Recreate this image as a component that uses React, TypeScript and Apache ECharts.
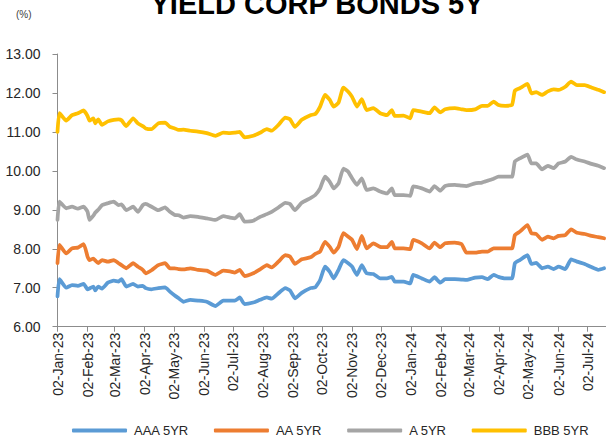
import React, { useEffect, useRef } from "react";
import * as echarts from "echarts";

const dates = [
  "2023-01-02","2023-01-04","2023-01-11","2023-01-17","2023-01-23","2023-01-29","2023-02-02","2023-02-04",
  "2023-02-08","2023-02-10","2023-02-13","2023-02-17","2023-02-23","2023-03-01","2023-03-06","2023-03-09",
  "2023-03-14","2023-03-21","2023-03-26","2023-03-31","2023-04-03","2023-04-09","2023-04-16","2023-04-23",
  "2023-04-28","2023-05-03","2023-05-07","2023-05-12","2023-05-19","2023-05-27","2023-06-05","2023-06-14",
  "2023-06-22","2023-06-29","2023-07-04","2023-07-09","2023-07-14","2023-07-23","2023-07-30","2023-08-06",
  "2023-08-11","2023-08-18","2023-08-25","2023-08-30","2023-09-04","2023-09-11","2023-09-20","2023-09-25",
  "2023-09-30","2023-10-05","2023-10-10","2023-10-14","2023-10-19","2023-10-24","2023-10-29","2023-11-02",
  "2023-11-07","2023-11-12","2023-11-17","2023-11-24","2023-12-01","2023-12-08","2023-12-13","2023-12-16",
  "2023-12-25","2024-01-01","2024-01-04","2024-01-13","2024-01-21","2024-01-26","2024-02-01","2024-02-06",
  "2024-02-16","2024-02-23","2024-02-28","2024-03-08","2024-03-15","2024-03-21","2024-03-27","2024-04-01",
  "2024-04-08","2024-04-15","2024-04-18","2024-04-23","2024-05-01","2024-05-05","2024-05-10","2024-05-16",
  "2024-05-22","2024-05-28","2024-06-02","2024-06-09","2024-06-15","2024-06-21","2024-06-29","2024-07-06",
  "2024-07-13","2024-07-19",
];

const bbb5y = [
  11.00,11.48,11.29,11.43,11.48,11.55,11.41,11.29,
  11.35,11.22,11.32,11.18,11.27,11.31,11.32,11.30,
  11.15,11.35,11.22,11.15,11.09,11.07,11.22,11.24,
  11.13,11.09,11.05,11.06,11.03,11.01,10.97,10.90,
  10.98,10.97,10.98,11.00,10.86,10.90,10.98,11.07,
  11.03,11.18,11.37,11.32,11.13,11.31,11.43,11.46,
  11.65,11.95,11.82,11.65,11.75,12.14,12.03,11.90,
  11.65,11.84,11.56,11.61,11.48,11.43,11.56,11.41,
  11.42,11.35,11.56,11.52,11.48,11.63,11.50,11.58,
  11.61,11.58,11.56,11.58,11.67,11.67,11.78,11.69,
  11.67,11.69,12.06,12.12,12.23,11.99,12.02,11.95,
  12.04,12.09,12.08,12.16,12.29,12.20,12.20,12.14,
  12.08,12.02,
];

const a5y = [
  8.74,9.21,9.04,9.08,9.03,9.08,8.95,8.74,
  8.85,8.93,9.00,9.12,9.17,9.21,9.12,9.14,
  8.99,9.08,8.95,9.12,9.15,9.08,8.99,9.06,
  8.95,8.87,8.86,8.80,8.84,8.82,8.78,8.74,
  8.84,8.80,8.78,8.89,8.70,8.72,8.82,8.89,
  8.95,9.06,9.18,9.15,8.99,9.18,9.30,9.38,
  9.55,9.85,9.72,9.55,9.68,10.06,9.98,9.81,
  9.64,9.81,9.51,9.55,9.47,9.42,9.55,9.38,
  9.38,9.36,9.60,9.55,9.47,9.61,9.49,9.61,
  9.64,9.62,9.61,9.68,9.70,9.75,9.80,9.85,
  9.85,9.85,10.24,10.32,10.42,10.19,10.19,10.04,
  10.13,10.07,10.19,10.24,10.36,10.29,10.24,10.18,
  10.13,10.07,
];

const aa5y = [
  7.63,8.10,7.88,8.01,8.03,8.12,7.80,7.71,
  7.75,7.70,7.63,7.71,7.67,7.71,7.63,7.58,
  7.50,7.63,7.54,7.46,7.37,7.45,7.58,7.63,
  7.50,7.50,7.48,7.47,7.50,7.46,7.44,7.33,
  7.44,7.42,7.39,7.46,7.30,7.37,7.47,7.58,
  7.52,7.67,7.84,7.80,7.61,7.73,7.78,7.87,
  7.93,8.18,8.05,7.90,8.05,8.40,8.31,8.23,
  7.99,8.33,8.01,8.14,8.05,8.04,8.18,8.01,
  8.01,7.99,8.23,8.14,8.01,8.16,8.04,8.14,
  8.16,8.12,7.90,7.90,7.93,7.93,8.01,8.01,
  8.01,8.01,8.35,8.44,8.61,8.40,8.38,8.23,
  8.31,8.27,8.33,8.35,8.50,8.41,8.38,8.33,
  8.30,8.27,
];

const aaa5y = [
  6.78,7.22,7.00,7.07,7.05,7.10,6.96,6.98,
  7.03,6.93,7.03,6.98,7.13,7.18,7.16,7.22,
  7.03,7.10,7.03,7.05,6.99,6.96,6.99,7.01,
  6.90,6.80,6.73,6.64,6.69,6.67,6.64,6.53,
  6.67,6.67,6.67,6.75,6.58,6.62,6.69,6.75,
  6.72,6.86,6.99,6.93,6.73,6.87,6.99,7.01,
  7.20,7.54,7.41,7.24,7.46,7.71,7.63,7.54,
  7.33,7.58,7.37,7.35,7.24,7.24,7.28,7.16,
  7.16,7.11,7.33,7.24,7.16,7.27,7.13,7.22,
  7.22,7.21,7.20,7.26,7.27,7.22,7.33,7.28,
  7.24,7.24,7.63,7.71,7.84,7.61,7.64,7.50,
  7.54,7.48,7.54,7.48,7.73,7.67,7.61,7.53,
  7.46,7.50,
];

const tickDates = [
  "2023-01-02","2023-02-02","2023-03-02","2023-04-02","2023-05-02","2023-06-02","2023-07-02",
  "2023-08-02","2023-09-02","2023-10-02","2023-11-02","2023-12-02","2024-01-02","2024-02-02",
  "2024-03-02","2024-04-02","2024-05-02","2024-06-02","2024-07-02",
];

const seriesNames = ["AAA 5YR", "AA 5YR", "A 5YR", "BBB 5YR"];
const seriesColors = ["#5B9BD5", "#ED7D31", "#A5A5A5", "#FFC000"];
const axisMin = "2023-01-02";
const axisMax = "2024-07-21";

const MONTHS = ["Jan","Feb","Mar","Apr","May","Jun","Jul","Aug","Sep","Oct","Nov","Dec"];
const DAY = 86400000;
const toUTC = (s: string) => {
  const [y, m, d] = s.split("-").map(Number);
  return Date.UTC(y, m - 1, d);
};
const BASE = toUTC(axisMin);
const toDay = (s: string) => Math.round((toUTC(s) - BASE) / DAY);
const fmt = (dayNum: number) => {
  const d = new Date(BASE + Math.round(dayNum) * DAY);
  const dd = String(d.getUTCDate()).padStart(2, "0");
  return `${dd}-${MONTHS[d.getUTCMonth()]}-${String(d.getUTCFullYear()).slice(2)}`;
};

const FONT = "'Liberation Sans', Arial, sans-serif";

export default function App() {
  const ref = useRef<HTMLDivElement>(null);
  useEffect(() => {
    if (!ref.current) return;
    const chart = echarts.init(ref.current, undefined, { renderer: "svg" });
    const all = [aaa5y, aa5y, a5y, bbb5y];
    const ticks = tickDates.map(toDay);
    chart.setOption({
      animation: false,
      textStyle: { fontFamily: FONT },
      graphic: [
        {
          type: "text",
          x: 317,
          y: 18,
          style: {
            text: "YIELD CORP BONDS 5Y",
            font: `bold 29px ${FONT}`,
            fill: "#000",
            textAlign: "center",
            textVerticalAlign: "bottom",
          },
        },
        {
          type: "text",
          x: 16,
          y: 9,
          style: { text: "(%)", font: `10px ${FONT}`, fill: "#404040" },
        },
      ],
      legend: {
        left: 67,
        top: 419,
        icon: "roundRect",
        itemWidth: 55,
        itemHeight: 4,
        itemGap: 25,
        data: seriesNames,
        textStyle: { fontSize: 13, color: "#262626", fontFamily: FONT, padding: [0, 0, 0, 2] },
      },
      grid: { left: 57.5, right: 0, top: 54, bottom: 112.3, containLabel: false },
      xAxis: {
        type: "value",
        min: 0,
        max: toDay(axisMax),
        axisLine: { lineStyle: { color: "#8c8c8c", width: 1 } },
        axisTick: { show: true, length: 5, lineStyle: { color: "#8c8c8c" }, customValues: ticks },
        axisLabel: {
          rotate: 90,
          fontSize: 14,
          color: "#262626",
          fontFamily: FONT,
          margin: 6,
          hideOverlap: false,
          customValues: ticks,
          formatter: (v: number) => fmt(v),
        },
        splitLine: { show: false },
      },
      yAxis: {
        type: "value",
        min: 6,
        max: 13,
        interval: 1,
        axisLine: { show: true, lineStyle: { color: "#8c8c8c", width: 1 } },
        axisTick: { show: true, length: 5, lineStyle: { color: "#8c8c8c" } },
        axisLabel: {
          fontSize: 14,
          color: "#262626",
          fontFamily: FONT,
          margin: 17,
          formatter: (v: number) => v.toFixed(2),
        },
        splitLine: { show: false },
      },
      series: seriesNames.map((name, i) => ({
        name,
        type: "line",
        symbol: "none",
        smooth: 0.15,
        data: dates.map((d, j) => [toDay(d), all[i][j]]),
        lineStyle: { color: seriesColors[i], width: 3.75, cap: "round", join: "round" },
        itemStyle: { color: seriesColors[i] },
      })),
    });
    return () => chart.dispose();
  }, []);
  return <div ref={ref} style={{ width: 606, height: 439, position: "absolute", left: 0, top: 0 }} />;
}
